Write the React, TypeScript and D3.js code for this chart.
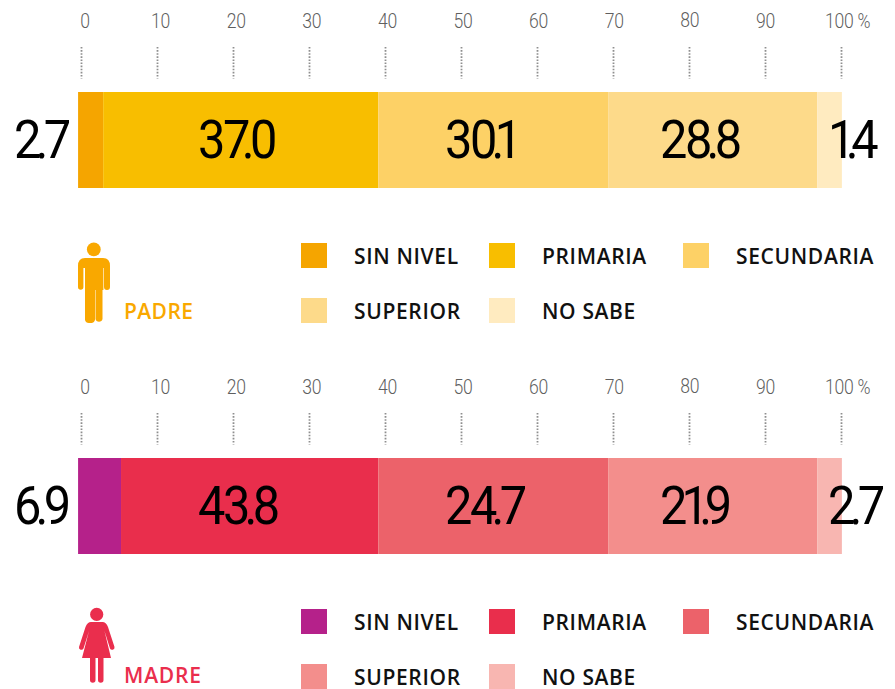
import React from 'react';
import * as d3 from 'd3';

const categories = ['SIN NIVEL', 'PRIMARIA', 'SECUNDARIA', 'SUPERIOR', 'NO SABE'];
const axisTicks = [0, 10, 20, 30, 40, 50, 60, 70, 80, 90, 100];

// printed numbers
const padreLabels = ['2.7', '37.0', '30.1', '28.8', '1.4'];
const madreLabels = ['6.9', '43.8', '24.7', '21.9', '2.7'];

// segment edges as they sit against the printed axis (not the same as the printed numbers)
const padreEdges = [-0.45, 2.85, 39.05, 69.3, 96.8, 100.05];
const madreEdges = [-0.45, 5.2, 39.05, 69.3, 96.8, 100.05];

const padreColors = ['#f5a500', '#f8be00', '#fdd166', '#fdda8a', '#ffebc0'];
const madreColors = ['#b5218a', '#e92e4c', '#ec626a', '#f38e8c', '#f8b6b1'];

const x = d3.scaleLinear().domain([0, 100]).range([81.5, 841.5]);
const tickLabelX = d3.scaleLinear().domain([0, 100]).range([85, 841]);
const valueLabelX = d3.scaleOrdinal<string, number>().domain(categories).range([14, 198, 445, 660, 828]);
const legendX = d3.scaleOrdinal<string, number>().domain(categories).range([301, 489, 683, 301, 489]);
const legendRow = d3.scaleOrdinal<string, number>().domain(categories).range([0, 0, 0, 55, 55]);

const digitFont = 'Roboto, sans-serif';
const legendFont = '"Open Sans", sans-serif';

function Narrow({ px, py, sx, children, ...rest }: any) {
  return (
    <text transform={`translate(${px},${py}) scale(${sx},1)`} {...rest}>
      {children}
    </text>
  );
}

// hand kerning: the printed numbers tuck the point in and have a narrow 1
function kern(prev: string, ch: string, beforePrev: string) {
  if (!prev) return 0;
  let dx = 0;
  if (ch === '.') dx -= 4;
  if (prev === '.') dx -= 2.5;
  if (ch === '1') dx -= prev === '.' ? 5.5 : 4;
  if (prev === '1') dx -= 4;
  if (prev === '.' && beforePrev === '1') dx -= 3;
  if (prev === '7' && ch === '.') dx -= 3;
  return dx;
}

function BigNumber({ value, px }: { value: string; px: number }) {
  return (
    <Narrow px={px} py={157.5} sx={0.92} fontFamily={digitFont} fontSize={53} fill="#000" letterSpacing={-2.5}>
      {value.split('').map((ch, i) => (
        <tspan key={i} dx={kern(value[i - 1], ch, value[i - 2])}>
          {ch}
        </tspan>
      ))}
    </Narrow>
  );
}

function Panel({ top, edges, labels, colors }: { top: number; edges: number[]; labels: string[]; colors: string[] }) {
  return (
    <g transform={`translate(0,${top})`}>
      {axisTicks.map((t) => (
        <g key={t}>
          <line x1={x(t)} x2={x(t)} y1={47} y2={78.5} stroke="#8f8f8f" strokeWidth={1.8} strokeDasharray="1.6 1.5" />
          {t === 100 ? (
            <Narrow px={tickLabelX(t) - 16} py={28} sx={0.88} fontFamily={digitFont} fontWeight={300} fontSize={20} fill="#5f5f5f" letterSpacing={-0.3}>
              100 %
            </Narrow>
          ) : (
            <Narrow px={tickLabelX(t)} py={t === 80 ? 27 : 28} sx={0.88} textAnchor="middle" fontFamily={digitFont} fontWeight={300} fontSize={20} fill="#5f5f5f" letterSpacing={-0.3}>
              {t}
            </Narrow>
          )}
        </g>
      ))}
      {categories.map((c, i) => (
        <rect key={c} x={x(edges[i])} y={92} width={x(edges[i + 1]) - x(edges[i])} height={96} fill={colors[i]} />
      ))}
      {categories.map((c, i) => (
        <BigNumber key={c} value={labels[i]} px={valueLabelX(c)} />
      ))}
      {categories.map((c, i) => (
        <g key={c} transform={`translate(${legendX(c)},${legendRow(c)})`}>
          <rect x={0} y={243} width={26} height={25} fill={colors[i]} />
          <text x={53} y={264} fontFamily={legendFont} fontWeight={600} fontSize={21} letterSpacing={0.65} fill="#111">
            {c}
          </text>
        </g>
      ))}
    </g>
  );
}

const manColor = '#f9a800';
const womanColor = '#ea2e4d';

export default function App() {
  return (
    <svg width={895} height={689} style={{ position: 'absolute', left: 0, top: 0, background: '#fff' }}>
      <Panel top={0} edges={padreEdges} labels={padreLabels} colors={padreColors} />
      <Panel top={366} edges={madreEdges} labels={madreLabels} colors={madreColors} />

      <g fill={manColor}>
        <circle cx={93.8} cy={249.4} r={6.9} />
        <path d="M85,258 H103 Q110,258 110,266 V287 a3,3 0 0 1 -6,0 V268 H103.4 V290 H95 V320 a4,4 0 0 1 -3,3 h-3 a4,4 0 0 1 -4,-3 V268 H83.4 V287 a2.7,2.7 0 0 1 -5.4,0 V266 Q78,258 85,258 Z" />
        <path d="M95.5,288 H102.5 V319 a3.6,3.6 0 0 1 -7,0 Z" />
      </g>
      <text x={124} y={318.5} fontFamily={legendFont} fontWeight={600} fontSize={21} letterSpacing={0.4} fill={manColor}>
        PADRE
      </text>

      <g fill={womanColor}>
        <circle cx={96.7} cy={614.4} r={6.6} />
        <path d="M91,622 H102.5 Q106,622 108,627 L114.5,647 a2.4,2.4 0 0 1 -4.5,1.5 L104.5,631 L111,658 H82 L89,631 L83.5,648.5 a2.4,2.4 0 0 1 -4.5,-1.5 L85.5,627 Q87.5,622 91,622 Z" />
        <path d="M90,658 H95.5 V680 a2.7,2.7 0 0 1 -5.5,0 Z" />
        <path d="M98,658 H103.5 V680 a2.7,2.7 0 0 1 -5.5,0 Z" />
      </g>
      <text x={124} y={682.5} fontFamily={legendFont} fontWeight={600} fontSize={21} letterSpacing={0.8} fill={womanColor}>
        MADRE
      </text>
    </svg>
  );
}
